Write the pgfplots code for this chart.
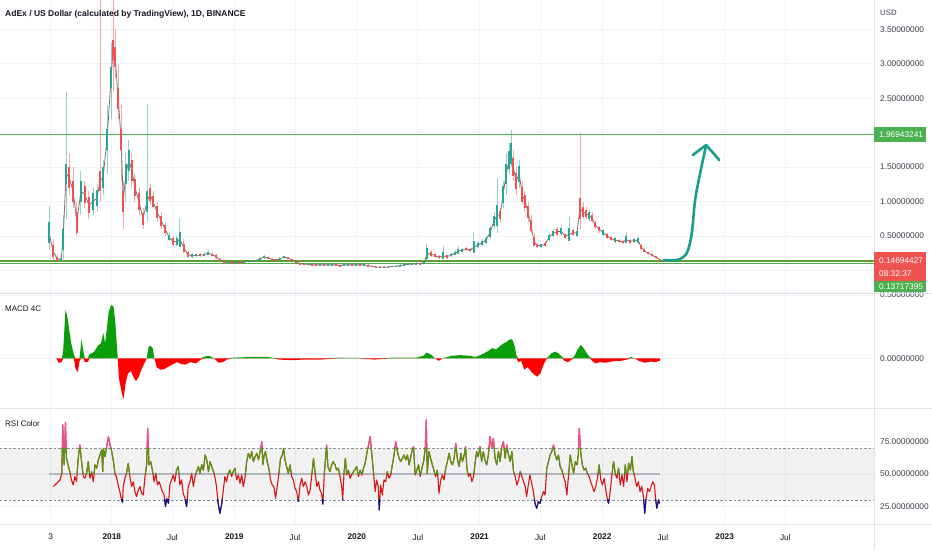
\documentclass[border=0pt]{standalone}
\usepackage{pgfplots}
\pgfplotsset{compat=1.18}
\usepackage{pgfplotstable}
\usepackage{fontspec}
\setmainfont{Liberation Sans}

\definecolor{gridc}{HTML}{F0F3FA}
\definecolor{sepc}{HTML}{E0E3EB}
\definecolor{txt}{HTML}{131722}
\definecolor{axtxt}{HTML}{3B3F4A}
\definecolor{upc}{HTML}{26A69A}
\definecolor{dnc}{HTML}{EF5350}
\definecolor{closec}{HTML}{8E6A6A}
\definecolor{lvl}{HTML}{4CAF50}
\definecolor{lvl2}{HTML}{5E9F2F}
\definecolor{arr}{HTML}{1A9E8C}
\definecolor{macdg}{HTML}{0A9F0A}
\definecolor{macdr}{HTML}{FF0000}
\definecolor{rsig}{HTML}{4E9A12}
\definecolor{rsir}{HTML}{D81414}
\definecolor{rsip}{HTML}{EC5088}
\definecolor{rsin}{HTML}{0A148C}
\definecolor{midc}{HTML}{B2B5BE}
\definecolor{dashc}{HTML}{8A8D96}

% x: days since 1 Jan 2017
% candles, sampled: low, high, body level, up (1) / down (0)
\pgfplotstableread{
d lo hi cl c
178 0.30 0.93 0.55 1
190 0.15 0.45 0.28 0
202 0.12 0.22 0.17 0
214 0.13 0.20 0.16 1
220 0.16 0.80 0.45 1
229 0.75 2.59 1.40 1
238 1.10 1.70 1.35 0
250 0.90 1.50 1.15 0
261 0.50 1.00 0.70 0
273 0.80 1.45 1.15 1
285 0.90 1.30 1.10 0
297 0.75 1.15 0.95 0
309 0.80 1.20 1.00 1
321 0.85 1.25 1.05 1
330 1.00 4.20 1.30 0
339 1.10 1.60 1.35 1
351 1.40 2.40 1.90 1
363 2.20 3.30 2.80 1
369 2.60 4.50 3.20 0
375 2.80 3.50 3.10 0
384 2.20 3.00 2.50 0
393 1.30 2.40 1.90 0
399 0.60 1.30 1.00 0
407 1.00 1.70 1.40 1
416 1.30 1.90 1.60 1
425 1.20 1.70 1.45 0
434 1.00 1.40 1.20 0
446 0.80 1.20 1.00 0
458 0.60 0.90 0.75 0
470 0.70 2.41 1.00 1
479 0.95 1.25 1.10 0
488 0.90 1.15 1.00 0
500 0.70 1.00 0.85 0
512 0.60 0.85 0.72 0
524 0.50 0.70 0.60 0
536 0.42 0.55 0.48 1
548 0.35 0.50 0.42 0
559 0.35 0.50 0.42 1
568 0.38 0.76 0.45 1
580 0.25 0.45 0.33 0
592 0.18 0.30 0.23 0
604 0.18 0.25 0.21 1
616 0.19 0.24 0.22 1
628 0.20 0.25 0.22 0
640 0.21 0.26 0.23 1
652 0.22 0.29 0.25 1
664 0.21 0.26 0.23 0
676 0.17 0.24 0.20 0
688 0.12 0.18 0.15 0
700 0.11 0.14 0.12 0
711 0.11 0.13 0.12 1
723 0.10 0.13 0.11 0
735 0.11 0.13 0.12 1
747 0.10 0.13 0.11 0
759 0.11 0.14 0.12 1
771 0.11 0.14 0.13 1
783 0.12 0.15 0.13 1
795 0.12 0.16 0.14 1
807 0.14 0.19 0.17 1
819 0.17 0.22 0.19 1
831 0.16 0.21 0.18 0
843 0.14 0.18 0.16 0
854 0.13 0.17 0.15 0
866 0.15 0.19 0.17 1
878 0.17 0.21 0.19 1
890 0.16 0.20 0.18 0
902 0.13 0.17 0.15 0
914 0.11 0.14 0.12 0
926 0.09 0.12 0.10 0
938 0.08 0.11 0.09 0
950 0.08 0.10 0.09 1
962 0.07 0.10 0.08 0
974 0.07 0.09 0.08 0
986 0.07 0.10 0.08 1
998 0.07 0.09 0.08 0
1009 0.06 0.09 0.08 1
1021 0.07 0.10 0.08 1
1033 0.07 0.09 0.08 0
1045 0.06 0.09 0.07 0
1057 0.07 0.09 0.08 1
1069 0.07 0.10 0.08 1
1081 0.07 0.09 0.08 0
1093 0.07 0.10 0.08 1
1105 0.07 0.09 0.08 0
1117 0.07 0.10 0.08 1
1129 0.06 0.09 0.07 0
1141 0.05 0.07 0.06 0
1152 0.04 0.06 0.05 0
1164 0.04 0.06 0.05 1
1176 0.04 0.06 0.05 0
1188 0.04 0.06 0.05 1
1200 0.05 0.07 0.06 1
1212 0.05 0.08 0.06 1
1224 0.06 0.09 0.07 1
1236 0.07 0.09 0.08 1
1248 0.08 0.10 0.09 1
1260 0.08 0.11 0.09 1
1272 0.09 0.12 0.10 1
1284 0.09 0.12 0.10 0
1296 0.10 0.13 0.11 1
1304 0.12 0.38 0.24 1
1316 0.20 0.30 0.24 0
1328 0.18 0.25 0.21 0
1340 0.17 0.22 0.19 0
1352 0.18 0.35 0.21 1
1364 0.17 0.23 0.20 0
1376 0.20 0.25 0.22 1
1388 0.22 0.30 0.25 1
1397 0.24 0.36 0.28 1
1409 0.26 0.33 0.29 1
1421 0.28 0.34 0.31 0
1433 0.27 0.32 0.29 0
1444 0.29 0.56 0.34 1
1456 0.33 0.42 0.37 1
1468 0.36 0.45 0.40 1
1480 0.38 0.50 0.44 1
1492 0.45 0.65 0.55 1
1504 0.60 0.85 0.72 1
1513 0.55 1.34 0.80 1
1522 0.70 0.90 0.80 0
1531 0.90 1.30 1.10 1
1540 1.10 1.70 1.40 1
1549 1.40 1.85 1.60 1
1555 1.50 2.04 1.70 1
1561 1.30 1.75 1.50 0
1570 1.10 1.50 1.30 0
1579 1.20 1.60 1.40 1
1588 0.95 1.30 1.10 0
1596 0.85 1.15 1.00 0
1605 0.70 1.00 0.85 0
1614 0.55 0.80 0.65 0
1623 0.35 0.55 0.42 0
1632 0.33 0.40 0.36 0
1644 0.32 0.39 0.36 1
1656 0.34 0.42 0.38 0
1668 0.42 0.55 0.48 1
1680 0.48 0.60 0.54 1
1692 0.50 0.63 0.56 0
1704 0.50 0.65 0.57 1
1716 0.45 0.55 0.50 0
1728 0.46 0.78 0.52 1
1740 0.50 0.62 0.55 0
1751 0.48 0.60 0.54 1
1760 0.60 1.99 0.90 0
1769 0.75 1.00 0.85 0
1778 0.75 0.92 0.82 0
1787 0.72 0.88 0.80 1
1796 0.70 0.85 0.76 0
1805 0.60 0.72 0.66 0
1817 0.55 0.65 0.60 0
1829 0.50 0.60 0.55 1
1841 0.45 0.55 0.50 0
1853 0.42 0.50 0.46 0
1865 0.40 0.48 0.44 1
1877 0.40 0.46 0.43 0
1889 0.38 0.44 0.41 0
1897 0.40 0.56 0.45 1
1909 0.38 0.46 0.42 0
1921 0.40 0.47 0.43 1
1933 0.38 0.50 0.44 1
1942 0.30 0.38 0.34 0
1951 0.26 0.32 0.29 0
1963 0.22 0.27 0.25 0
1975 0.20 0.24 0.22 0
1987 0.17 0.21 0.19 0
1999 0.14 0.17 0.15 0
}\price

% MACD 4C histogram
\pgfplotstableread{
d v
200 0
206 -0.035
216 -0.03
220 0.05
227 0.38
232 0.34
237 0.25
244 0.12
252 0.03
257 -0.08
264 -0.11
269 -0.02
275 0.15
280 0.06
285 -0.03
294 -0.03
298 0.03
312 0.05
324 0.10
333 0.12
340 0.20
345 0.12
351 0.25
356 0.37
363 0.42
370 0.41
375 0.30
379 0.15
383 0
386 -0.15
391 -0.22
397 -0.30
400 -0.32
406 -0.20
413 -0.12
422 -0.10
430 -0.15
437 -0.18
445 -0.15
453 -0.09
464 -0.03
469 0
475 0.09
480 0.10
487 0.08
492 0
499 -0.07
510 -0.09
521 -0.085
531 -0.07
545 -0.05
560 -0.03
572 -0.045
584 -0.05
599 -0.03
616 -0.04
630 -0.01
643 0.015
655 0.02
669 0
684 -0.035
696 -0.03
708 -0.01
723 0.005
776 0.01
820 0.012
846 0.005
864 -0.01
900 -0.015
935 -0.01
988 -0.01
1041 0.005
1094 0.003
1148 -0.01
1201 0.005
1272 0.005
1293 0.02
1303 0.045
1316 0.03
1328 0
1339 -0.02
1351 0
1378 0.02
1404 0.025
1431 0.02
1449 0.01
1463 0.025
1475 0.04
1488 0.06
1498 0.08
1510 0.07
1523 0.10
1534 0.12
1542 0.13
1551 0.15
1558 0.15
1565 0.10
1571 0.02
1576 -0.03
1585 -0.02
1594 -0.09
1604 -0.07
1613 -0.10
1624 -0.13
1633 -0.145
1642 -0.12
1650 -0.06
1659 -0.01
1665 0.01
1675 0.04
1686 0.053
1696 0.04
1707 0.01
1714 -0.02
1725 -0.03
1735 -0.01
1742 0.01
1753 0.07
1762 0.105
1771 0.08
1780 0.04
1789 0.01
1796 -0.02
1806 -0.04
1820 -0.03
1835 -0.035
1847 -0.03
1865 -0.02
1882 -0.02
1900 -0.01
1913 0.01
1923 0
1935 -0.02
1953 -0.035
1971 -0.025
1985 -0.03
1998 -0.02
1999 0
}\macd

% RSI
\pgfplotstableread{
d r
191 40.3
201 42.8
211 45.4
216 50.5
219 87.7
223 57
227 89.7
230 62
235 57
240 51.8
245 45.4
250 41.5
255 48
260 44
265 62
270 72.3
275 59.5
280 48
285 46.7
290 50.5
295 59.5
300 46.7
305 51.8
310 44
315 57
320 54.4
325 60.8
330 64.6
335 68.5
338 51.8
340 69.7
345 63.3
350 71
355 78.7
360 72.3
365 67.2
370 59.5
375 49.2
379 48
384 41.5
389 36.4
394 30
397 28.2
399 40.3
404 46.7
409 50.5
414 58.2
419 48
424 40.3
429 44
434 36.4
439 32.6
444 37.7
449 40.3
454 35.1
459 33.8
464 48
469 57
472 85
476 57
481 59.5
486 53
491 44
496 50.5
501 41.5
506 44
511 40.3
516 36.4
521 33.8
525 24.9
529 31.3
534 27.4
538 41.5
543 45.4
548 49.2
553 44
558 53
563 55.6
568 41.5
573 45.4
578 35.1
583 31.3
588 24.9
593 40.3
598 44
603 50.5
608 40.3
613 48
618 51.8
623 55.6
628 50.5
633 57
638 53
643 64.6
648 60.8
653 51.8
658 59.5
663 55.6
668 51.8
673 46.7
677 40.3
682 27.4
687 19.7
692 26.2
697 36.4
702 48
707 44
712 50.5
717 53
722 48
727 51.8
732 54.4
737 45.4
742 49.2
747 42.8
752 49.2
757 40.3
762 46.7
767 59.5
772 65.9
777 62
782 67.2
787 59.5
792 63.3
797 65.9
802 60.8
807 67.2
812 74.9
815 57
819 64.6
823 67.2
828 59.5
833 54.4
838 45.4
843 41.5
848 40.3
853 31.3
858 40.3
863 50.5
868 62
873 64.6
877 69.7
881 60.8
886 55.6
891 50.5
896 57
901 48
906 45.4
911 39
916 36.4
921 28.7
926 41.5
931 46.7
936 40.3
941 44
946 40.3
951 33.8
956 37.7
961 49.2
966 62
971 50.5
976 40.3
981 44
985 37.7
990 35.1
994 26.7
998 49.2
1002 62
1005 72.3
1009 55.6
1015 51.8
1020 57
1025 59.5
1030 57
1035 53
1040 54.4
1045 48
1050 40.3
1053 30
1057 50.5
1061 62
1065 49.2
1070 53
1075 46.7
1085 51.8
1095 55.6
1100 48
1105 53
1110 49.2
1115 54.4
1120 58.2
1125 65.9
1130 72.3
1135 78.7
1140 64.6
1145 50.5
1150 36.4
1154 45.4
1159 40.3
1162 22.3
1166 41.5
1171 33.8
1176 45.4
1181 44
1186 51.8
1191 46.7
1196 49.2
1201 57
1206 64.6
1211 74.9
1216 67.2
1221 62
1226 59.5
1231 62
1236 64.6
1241 60.8
1246 64.6
1251 57
1256 63.3
1261 69.7
1264 71
1269 49.2
1274 53
1279 57
1284 48
1289 54.4
1294 59.5
1299 69.7
1302 91.5
1305 50.5
1310 67.2
1315 62
1320 57
1325 53
1330 48
1335 53
1340 35.1
1345 45.4
1350 49.2
1355 45.4
1360 54.4
1365 59.5
1370 65.9
1375 59.5
1380 57
1385 62
1390 73.6
1395 60.8
1400 55.6
1405 65.9
1410 59.5
1415 64.6
1419 71
1423 54.4
1428 48
1433 50.5
1438 44
1443 48
1448 59.5
1452 67.2
1457 63.3
1462 71
1467 59.5
1472 67.2
1477 60.8
1482 57
1487 64.6
1492 78.7
1497 69.7
1502 77.4
1507 62
1512 57
1517 67.2
1522 59.5
1527 71
1532 74.9
1537 62
1542 72.3
1547 64.6
1552 59.5
1557 67.2
1562 51.8
1567 48
1572 41.5
1577 45.4
1582 51.8
1587 48
1592 44
1597 40.3
1601 32.6
1606 41.5
1611 49.2
1616 42.8
1621 36.4
1626 27.4
1631 23.6
1636 28.7
1641 27.4
1646 32.6
1651 36.4
1656 33.8
1661 54.4
1666 59.5
1671 64.6
1676 67.2
1681 72.3
1686 64.6
1691 60.8
1696 64.6
1701 55.6
1706 53
1711 48
1716 44
1721 33.8
1726 49.2
1731 64.6
1736 57
1741 50.5
1746 59.5
1751 57
1755 64.6
1758 85.1
1762 67.2
1767 57
1772 53
1777 54.4
1782 50.5
1787 48
1792 44
1797 40.3
1802 36.4
1807 40.3
1812 46.7
1817 57
1822 45.4
1827 41.5
1832 46.7
1837 37.7
1842 30
1845 27.4
1850 36.4
1855 49.2
1860 59.5
1865 50.5
1870 46.7
1875 54.4
1880 41.5
1885 49.2
1890 40.3
1895 57
1900 44
1905 58.2
1910 53
1915 63.3
1919 51.8
1924 46.7
1929 40.3
1934 44
1939 36.4
1944 40.3
1949 32.6
1953 19.7
1957 31.3
1962 38.9
1967 36.4
1972 40.3
1977 44
1982 41.5
1985 31.3
1989 23.6
1994 30
1997 27.4
}\rsi

\pgfplotsset{
  tv/.style={
    scale only axis, width=874pt,
    xmin=32, xmax=2636,
    axis line style={draw=none},
    major tick length=0pt,
    xtick={183,365,546,730,911,1095,1277,1461,1642,1826,2007,2191,2372},
    xmajorgrids, ymajorgrids,
    grid style={gridc, line width=0.8pt},
    yticklabel pos=right,
    tick label style={font=\fontsize{8.3}{9}\selectfont, text=axtxt},
    yticklabel style={anchor=west, inner sep=0pt, xshift=6pt},
  },
  ov/.style={scale only axis, width=874pt, xmin=32, xmax=2636, hide axis},
  wick/.style={draw=none, mark=none,
    error bars/.cd, y dir=both, y explicit, error mark=none,
    error bar style={draw=#1, line width=0.9pt, opacity=0.5}},
  body/.style={draw=none, mark=none,
    error bars/.cd, y dir=both, y explicit, error mark=none,
    error bar style={draw=#1, line width=1.8pt}},
}

\begin{document}
\begin{tikzpicture}
\useasboundingbox (0pt,0pt) rectangle (932pt,550pt);
\fill[white] (0pt,0pt) rectangle (932pt,550pt);

% price pane
\begin{axis}[tv, at={(0pt,550pt)}, anchor=north west, height=293pt,
  ymin=-0.328, ymax=3.925,
  ytick={0,0.5,1,1.5,2,2.5,3,3.5},
  yticklabels={,0.50000000,1.00000000,1.50000000,,2.50000000,3.00000000,3.50000000},
  xticklabels={}]
\addplot[lvl, line width=1.2pt] coordinates {(32,1.9694) (2636,1.9694)};
\addplot[lvl2, line width=1.2pt] coordinates {(32,0.137) (2636,0.137)};
\addplot[lvl, line width=1.2pt] coordinates {(32,0.100) (2636,0.100)};
% wicks (low to high)
\addplot[restrict expr to domain={\thisrow{c}}{-0.5:0.5}, wick=dnc]
  table[x=d, y expr={(\thisrow{lo}+\thisrow{hi})/2},
        y error expr={(\thisrow{hi}-\thisrow{lo})/2}] {\price};
\addplot[restrict expr to domain={\thisrow{c}}{0.5:1.5}, wick=upc]
  table[x=d, y expr={(\thisrow{lo}+\thisrow{hi})/2},
        y error expr={(\thisrow{hi}-\thisrow{lo})/2}] {\price};
\addplot[closec, line width=0.8pt, line join=round] table[x=d, y=cl] {\price};
% bodies round the body level
\addplot[restrict expr to domain={\thisrow{c}}{-0.5:0.5}, body=dnc]
  table[x=d, y=cl, y error expr={min(0.3*(\thisrow{hi}-\thisrow{lo}),0.15)}] {\price};
\addplot[restrict expr to domain={\thisrow{c}}{0.5:1.5}, body=upc]
  table[x=d, y=cl, y error expr={min(0.3*(\thisrow{hi}-\thisrow{lo}),0.15)}] {\price};
\draw[arr, line width=2.6pt, line cap=round] plot[smooth, tension=0.55] coordinates {
  (axis cs:2009,0.151) (axis cs:2049,0.151) (axis cs:2078,0.25) (axis cs:2093,0.54)
  (axis cs:2103,1.02) (axis cs:2118,1.41) (axis cs:2136,1.82)};
\draw[arr, line width=2.6pt, line cap=round, line join=round]
  (axis cs:2096,1.675) -- (axis cs:2136,1.82) -- (axis cs:2175,1.602);
\end{axis}

% MACD pane
\begin{axis}[tv, at={(0pt,257pt)}, anchor=north west, height=115pt,
  ymin=-0.3926, ymax=0.516, ytick={0,0.5},
  yticklabels={0.00000000,0.50000000}, xticklabels={}]
\addplot[draw=none, fill=macdg] table[x=d, y expr={max(\thisrow{v},0)}] {\macd};
\addplot[draw=none, fill=macdr] table[x=d, y expr={min(\thisrow{v},0)}] {\macd};
\end{axis}

% RSI pane
\begin{axis}[tv, at={(0pt,26pt)}, anchor=south west, height=116pt,
  ymin=11.5, ymax=100.73, ytick={25,50,75},
  yticklabels={25.00000000,50.00000000,75.00000000},
  xticklabels={3,\textbf{2018},Jul,\textbf{2019},Jul,\textbf{2020},Jul,\textbf{2021},Jul,\textbf{2022},Jul,\textbf{2023},Jul},
  xticklabel style={anchor=north, inner sep=0pt, yshift=-10pt, text=txt}]
\fill[black, opacity=0.055] (axis cs:32,30) rectangle (axis cs:2636,70);
\draw[dashc, line width=0.8pt, dash pattern=on 2.5pt off 2pt] (axis cs:32,70) -- (axis cs:2636,70);
\draw[dashc, line width=0.8pt, dash pattern=on 2.5pt off 2pt] (axis cs:32,30) -- (axis cs:2636,30);
\addplot[midc, line width=1.6pt] coordinates {(178,50) (1999,50)};
\addplot[rsir, line width=1.1pt, line join=round] table[x=d, y=r] {\rsi};
\end{axis}
% RSI colour bands: same line clipped to each zone
\begin{axis}[ov, at={(0pt,26pt)}, anchor=south west, height=24.05pt, ymin=11.5, ymax=30]
\addplot[rsin, line width=1.1pt, line join=round] table[x=d, y=r] {\rsi};
\end{axis}
\begin{axis}[ov, at={(0pt,76.05pt)}, anchor=south west, height=26pt, ymin=50, ymax=70]
\addplot[rsig, line width=1.1pt, line join=round] table[x=d, y=r] {\rsi};
\end{axis}
\begin{axis}[ov, at={(0pt,102.05pt)}, anchor=south west, height=39.95pt, ymin=70, ymax=100.73]
\addplot[rsip, line width=1.1pt, line join=round] table[x=d, y=r] {\rsi};
\end{axis}

% pane separators
\draw[sepc, line width=1pt] (874pt,0pt) -- (874pt,550pt);
\draw[sepc, line width=1pt] (0pt,257pt) -- (932pt,257pt);
\draw[sepc, line width=1pt] (0pt,142pt) -- (932pt,142pt);
\draw[sepc, line width=1pt] (0pt,26pt) -- (932pt,26pt);

% price scale labels
\fill[lvl] (874pt,408pt) rectangle (926pt,423pt);
\node[anchor=west, inner sep=0pt, white, font=\fontsize{8.3}{9}\selectfont] at (879pt,415.5pt) {1.96943241};
\fill[dnc] (874pt,269pt) rectangle (926pt,298pt);
\node[anchor=west, inner sep=0pt, white, font=\fontsize{8.3}{9}\selectfont] at (879pt,289.3pt) {0.14694427};
\node[anchor=west, inner sep=0pt, white, font=\fontsize{8.3}{9}\selectfont] at (879pt,276.7pt) {08:32:37};
\fill[lvl] (874pt,258pt) rectangle (926pt,269pt);
\node[anchor=west, inner sep=0pt, white, font=\fontsize{8.3}{9}\selectfont] at (879pt,263pt) {0.13717395};
\node[anchor=west, inner sep=0pt, text=axtxt, font=\fontsize{7.8}{9}\selectfont] at (880pt,537.3pt) {USD};

% pane titles
\node[anchor=west, inner sep=0pt, text=txt, font=\fontsize{8.5}{9}\selectfont\bfseries] at (5pt,536pt) {AdEx / US Dollar (calculated by TradingView), 1D, BINANCE};
\node[anchor=west, inner sep=0pt, text=txt, font=\fontsize{8}{9}\selectfont] at (5pt,241pt) {MACD 4C};
\node[anchor=west, inner sep=0pt, text=txt, font=\fontsize{8}{9}\selectfont] at (5pt,126pt) {RSI Color};
\end{tikzpicture}
\end{document}
